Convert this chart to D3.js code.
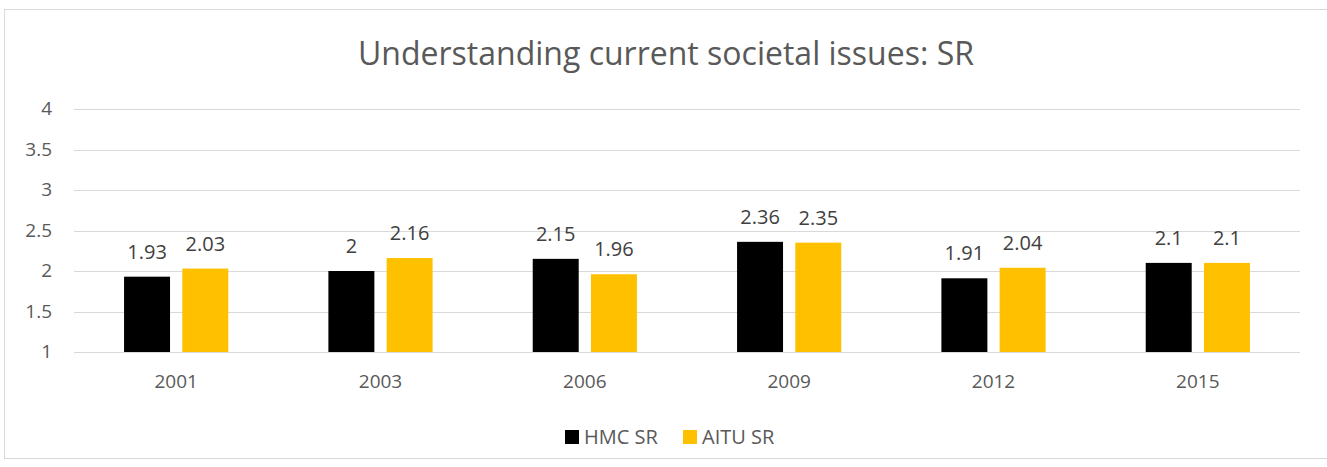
<!DOCTYPE html>
<html>
<head>
<meta charset="utf-8">
<script src="https://cdn.jsdelivr.net/npm/d3@7"></script>
<style>
  html, body { margin: 0; padding: 0; background: #fff; }
  svg { display: block; font-family: "Open Sans", "Noto Sans", sans-serif; }
</style>
</head>
<body>
<svg id="chart" width="1327" height="467"></svg>
<script>
// Survey years and mean scores per group
const years = ["2001", "2003", "2006", "2009", "2012", "2015"];
const hmcValues = [1.93, 2.00, 2.15, 2.36, 1.91, 2.10];
const aituValues = [2.03, 2.16, 1.96, 2.35, 2.04, 2.10];
const seriesNames = ["HMC SR", "AITU SR"];
const yTicks = [1, 1.5, 2, 2.5, 3, 3.5, 4];
const titleText = "Understanding current societal issues: SR";

const colors = ["#000000", "#FFC000"];
const series = [hmcValues, aituValues];

const svg = d3.select("#chart");

// outer chart frame
svg.append("rect")
  .attr("x", 4.5).attr("y", 9.5)
  .attr("width", 1330).attr("height", 449)
  .attr("fill", "#fff").attr("stroke", "#d9d9d9").attr("stroke-width", 1);

const plot = { left: 74, right: 1300, top: 109, bottom: 352 };

const x = d3.scaleBand().domain(years).range([plot.left, plot.right]).paddingInner(0).paddingOuter(0);
const y = d3.scaleLinear().domain([1, 4]).range([plot.bottom, plot.top]);

// horizontal gridlines
svg.append("g")
  .selectAll("line")
  .data(yTicks)
  .join("line")
  .attr("x1", plot.left).attr("x2", plot.right)
  .attr("y1", d => Math.round(y(d)) + 0.5).attr("y2", d => Math.round(y(d)) + 0.5)
  .attr("stroke", "#d9d9d9").attr("stroke-width", 1);

// y-axis labels
const yAxis = d3.axisLeft(y).tickValues(yTicks).tickSize(0).tickPadding(0).tickFormat(d3.format("~g"));
const gy = svg.append("g").attr("transform", `translate(${plot.left - 22},0)`).call(yAxis);
gy.select(".domain").remove();
gy.selectAll("text")
  .attr("fill", "#595959")
  .attr("dy", "0.3em")
  .style("font-size", "19px")
  .style("font-family", "'Open Sans', sans-serif");

// x-axis labels
const xAxis = d3.axisBottom(x).tickSize(0).tickPadding(0);
const gx = svg.append("g").attr("transform", `translate(0,388)`).call(xAxis);
gx.select(".domain").remove();
gx.selectAll("text")
  .attr("y", 0).attr("dy", 0)
  .attr("fill", "#595959")
  .style("font-size", "19px")
  .style("font-family", "'Open Sans', sans-serif");

// grouped bars: two bars per year with a small gap between
const step = x.bandwidth();
const barW = step * 0.225;
const gap = step * 0.06;
const xSub = d3.scaleOrdinal().domain([0, 1]).range([-gap / 2 - barW, gap / 2]);

series.forEach((vals, si) => {
  const g = svg.append("g");
  g.selectAll("rect")
    .data(vals)
    .join("rect")
    .attr("x", (d, i) => x(years[i]) + step / 2 + xSub(si))
    .attr("y", d => y(d))
    .attr("width", barW)
    .attr("height", d => y(1) - y(d))
    .attr("fill", colors[si]);
  g.selectAll("text")
    .data(vals)
    .join("text")
    .attr("x", (d, i) => x(years[i]) + step / 2 + xSub(si) + barW / 2)
    .attr("y", d => y(d) - 18)
    .attr("text-anchor", "middle")
    .attr("fill", "#404040")
    .style("font-size", "20px")
    .text(d => d3.format("~g")(d));
});

// title
svg.append("text")
  .attr("x", 666).attr("y", 65)
  .attr("text-anchor", "middle")
  .attr("fill", "#595959")
  .style("font-size", "32px")
  .text(titleText);

// legend
const legend = svg.append("g");
const legendX = [565, 683];
seriesNames.forEach((name, i) => {
  legend.append("rect")
    .attr("x", legendX[i]).attr("y", 430)
    .attr("width", 14).attr("height", 14)
    .attr("fill", colors[i]);
  legend.append("text")
    .attr("x", legendX[i] + 19).attr("y", 444)
    .attr("fill", "#595959")
    .style("font-size", "20px")
    .text(name);
});
</script>
</body>
</html>
